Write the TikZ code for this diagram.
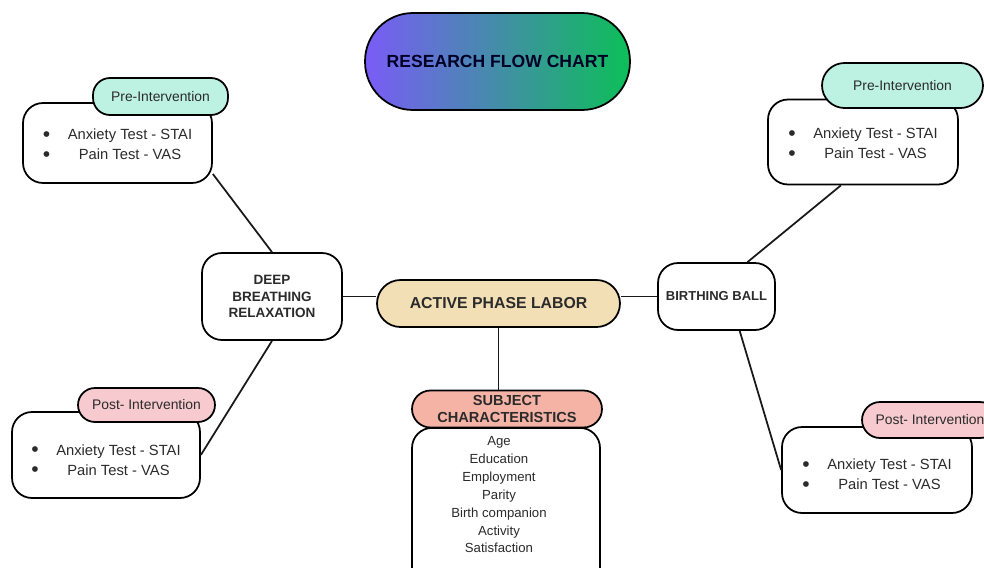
\documentclass[tikz,border=0pt]{standalone}
\usepackage{fontspec}
\setmainfont{Liberation Sans}
\definecolor{mint}{HTML}{BDF2E3}
\definecolor{blush}{HTML}{F6CACE}
\definecolor{salmon}{HTML}{F5B3A5}
\definecolor{wheat}{HTML}{F2DFB6}
\definecolor{violet}{HTML}{7A5CF7}
\definecolor{leaf}{HTML}{0CBF58}
\definecolor{ink}{HTML}{2B2B2B}
\tikzset{
  box/.style={draw=black, line width=1pt, rounded corners=0.4cm, fill=white, inner sep=0pt, align=center, text=ink},
  tag/.style={draw=black, line width=1pt, rounded corners=0.34cm, inner sep=0pt, align=center, text=ink,
    font=\fontsize{7.9}{10}\selectfont},
  link/.style={line width=1pt, draw=black!90},
  bodyfont/.style={font=\fontsize{8.4}{11.4}\selectfont},
}
% big bullet, set at mid-height of the text
\newcommand{\bigbullet}{\raisebox{-1pt}{\fontsize{12}{11.4}\selectfont\textbullet}}
% bullet list of the two tests, lowered by the optional argument
\newcommand{\testlist}[1][0pt]{\raisebox{-#1}[\height][\depth]{\begin{tabular}{@{}c@{\hspace{10pt}}c@{}}
  \bigbullet & Anxiety Test - STAI\\
  \bigbullet & Pain Test - VAS
\end{tabular}}}
\begin{document}
\begin{tikzpicture}[x=0.02cm, y=-0.02cm]
    \clip (0,0) rectangle (984,568);

    % Title
    \node[draw=black, line width=1pt, rounded corners=0.96cm, left color=violet, right color=leaf,
      minimum width=5.3cm, minimum height=1.94cm, text=black!85!blue,
      font=\fontsize{10}{12}\selectfont\bfseries] (title) at (497.5,61.5) {RESEARCH FLOW CHART};

    % Centre and the two interventions
    \node[box, fill=wheat, rounded corners=0.47cm, minimum width=4.86cm, minimum height=0.94cm,
      font=\fontsize{9}{11}\selectfont\bfseries] (apl) at (498.5,303.5) {ACTIVE PHASE LABOR};
    \node[box, minimum width=2.8cm, minimum height=1.74cm,
      font=\fontsize{7.7}{9.4}\selectfont\bfseries] (dbr) at (272,296.5) {DEEP\\BREATHING\\RELAXATION};
    \node[box, minimum width=2.34cm, minimum height=1.34cm,
      font=\fontsize{7.4}{9}\selectfont\bfseries] (bb) at (716.5,296.5) {BIRTHING BALL};

    % Test boxes
    \node[box, bodyfont, minimum width=3.78cm, minimum height=1.6cm] (lpre) at (117.5,143) {\testlist[1.5pt]};
    \node[box, bodyfont, minimum width=3.76cm, minimum height=1.72cm] (lpost) at (106,455) {\testlist[3.5pt]};
    \node[box, bodyfont, minimum width=3.8cm, minimum height=1.7cm] (rpre) at (863,142) {\testlist[1.5pt]};
    \node[box, bodyfont, minimum width=3.8cm, minimum height=1.72cm] (rpost) at (877,470) {\testlist[3pt]};

    % Tags
    \node[tag, fill=mint, minimum width=2.7cm, minimum height=0.74cm] (lpretag) at (160.5,96.5) {Pre-Intervention};
    \node[tag, fill=blush, minimum width=2.74cm, minimum height=0.68cm] (lposttag) at (146.5,405) {Post- Intervention};
    \node[tag, fill=mint, rounded corners=0.45cm, minimum width=3.22cm, minimum height=0.9cm] (rpretag) at (902.5,85.5) {Pre-Intervention};
    \node[tag, fill=blush, rounded corners=0.36cm, minimum width=2.72cm, minimum height=0.72cm] (rposttag) at (930,420) {Post- Intervention};

    % Subject characteristics
    \node[box, anchor=north, minimum width=3.76cm, minimum height=3.6cm] (subjbox) at (506,427) {};
    \node[align=center, text=ink, inner sep=0pt, font=\fontsize{7.5}{10.2}\selectfont, anchor=north]
      (subjlist) at (499,436) {Age\\Education\\Employment\\Parity\\Birth companion\\Activity\\Satisfaction};
    \node[tag, fill=salmon, rounded corners=0.37cm, minimum width=3.8cm, minimum height=0.74cm,
      font=\fontsize{8.3}{10}\selectfont\bfseries] (subjtag) at (507,409) {SUBJECT\\CHARACTERISTICS};

    % Connectors
    \draw[link] (lpre.-18) -- (dbr.north);
    \draw[link] (dbr.south) -- (lpost.east);
    \draw[link] (dbr.east) -- (dbr.east -| apl.west);
    \draw[link] (bb.west) -- (bb.west -| apl.east);
    \draw[link] (apl.south) -- (apl.south |- subjtag.north);
    \draw[link] (bb.48) -- (rpre.-117);
    \draw[link] (bb.-56) -- (rpost.west);
\end{tikzpicture}
\end{document}
